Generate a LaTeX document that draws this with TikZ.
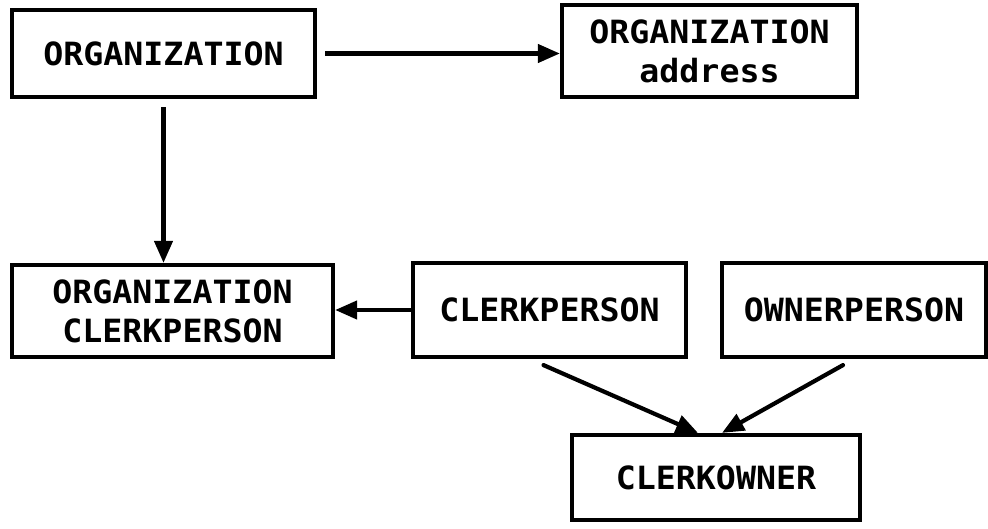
\documentclass[tikz,border=0pt]{standalone}
\usepackage{fontspec}
\newfontfamily\boxfont[FakeStretch=1.04]{DejaVu Sans Mono}
\usetikzlibrary{arrows.meta}
\begin{document}
\begin{tikzpicture}[x=1pt,y=-1pt,
  ent/.style={draw,line width=4.2pt,inner sep=0pt,align=center,
    font=\boxfont\bfseries\fontsize{32}{39}\selectfont},
  arr/.style={line width=4.2pt,-{Triangle[length=22pt,width=18pt]}},
  darr/.style={arr,line cap=round}]
\useasboundingbox (0,0) rectangle (988,529);
\node[ent,minimum width=303pt,minimum height=87pt] (org) at (163.5,53.5) {ORGANIZATION};
\node[ent,minimum width=295pt,minimum height=92pt] (addr) at (709.5,51) {ORGANIZATION\\address};
\node[ent,minimum width=321pt,minimum height=92pt] (oc) at (172.5,311) {ORGANIZATION\\CLERKPERSON};
\node[ent,minimum width=273pt,minimum height=94pt] (cp) at (549.5,310) {CLERKPERSON};
\node[ent,minimum width=264pt,minimum height=94pt] (op) at (854,310) {OWNERPERSON};
\node[ent,minimum width=288pt,minimum height=85pt] (co) at (716,477.5) {CLERKOWNER};
\draw[arr] ([xshift=8pt]org.east) -- (addr.west |- org.east);
\draw[arr] ([yshift=-8pt]org.south) -- (oc.north -| org.south);
\draw[arr] (cp.west) -- (oc.east |- cp.west);
\draw[darr] ([xshift=-6pt,yshift=-6pt]cp.south) -- ([xshift=-18pt]co.north);
\draw[darr] ([xshift=-11pt,yshift=-6pt]op.south) -- ([xshift=6pt]co.north);
\end{tikzpicture}
\end{document}
